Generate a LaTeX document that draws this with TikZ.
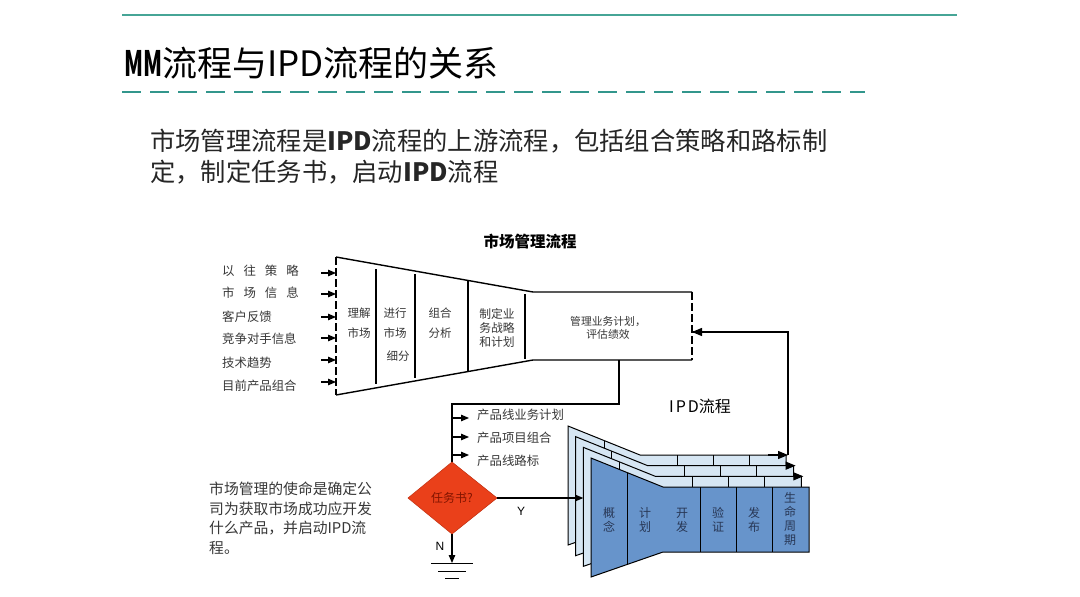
\documentclass[tikz,border=0pt]{standalone}
\usepackage{fontspec}
\setmainfont{Noto Sans CJK SC}
\newfontfamily\latinsans{Liberation Sans}
\usetikzlibrary{arrows.meta}
\definecolor{tealA}{RGB}{70,165,150}
\definecolor{tealB}{RGB}{50,150,140}
\definecolor{txtgray}{RGB}{55,55,55}
\definecolor{frontblue}{RGB}{103,148,203}
\definecolor{backblue}{RGB}{214,230,243}
\definecolor{diafill}{RGB}{234,64,26}
\definecolor{diatext}{RGB}{130,20,0}
\definecolor{ipdtext}{RGB}{40,55,85}
\tikzset{
  lbl/.style={inner sep=0pt, text=txtgray},
  ln/.style={line width=1.1pt, black},
  arr/.style={line width=1.1pt, black, -{Triangle[length=8pt,width=6.5pt]}},
  bigarr/.style={line width=1.3pt, black, -{Triangle[length=10pt,width=8pt]}},
  layerback/.style={fill=backblue, draw=black, line width=1pt},
  layerfront/.style={fill=frontblue, draw=black, line width=1pt},
}
\newcommand{\myfs}[2]{\fontsize{#1}{#2}\selectfont}
\begin{document}
\begin{tikzpicture}[x=1pt,y=-1pt]
\useasboundingbox (0,0) rectangle (1080,597);
\fill[white] (0,0) rectangle (1080,597);

% header
\coordinate (tl1) at (122,15); \coordinate (tl2) at (957,15);
\draw[tealA, line width=1.2pt] (tl1) -- (tl2);
\coordinate (dl1) at (122,92); \coordinate (dl2) at (865,92);
\draw[tealB, line width=2.5pt, dash pattern=on 19pt off 9pt] (dl1) -- (dl2);
\node[anchor=west, inner sep=0pt] (title) at (124,63) {\myfs{35}{35}\scalebox{0.62}[1]{\bfseries MM}流程与IPD流程的关系};

\node[anchor=west, inner sep=0pt, text=black!85] (p1) at (150,141) {\myfs{25.3}{25}市场管理流程是\textbf{IPD}流程的上游流程，包括组合策略和路标制};
\node[anchor=west, inner sep=0pt, text=black!85] (p2) at (150,172) {\myfs{25.3}{25}定，制定任务书，启动\textbf{IPD}流程};

% market management title
\node[inner sep=0pt] (mmt) at (530,242) {\myfs{15.5}{16}\bfseries 市场管理流程};

% funnel
\coordinate (fTL) at (336,257); \coordinate (fBL) at (336,395);
\coordinate (fTM) at (533,292); \coordinate (fBM) at (533,360);
\coordinate (fTR) at (692,292); \coordinate (fBR) at (692,360);
\draw[line width=1.4pt] (fTL) -- (fTM) -- (fTR);
\draw[line width=1.4pt] (fBL) -- (fBM) -- (fBR);
\draw[line width=1.4pt, dash pattern=on 8pt off 3pt] (fTL) -- (fBL);
\draw[line width=1.4pt, dash pattern=on 8pt off 3pt] (fTR) -- (fBR);
\foreach \x/\a/\b in {376/269/384, 415/274/378, 468/281/372, 525/294/359}
  \draw[line width=1.4pt] (\x,\a) -- (\x,\b);

% funnel texts
\node[lbl, align=center, font=\myfs{11.5}{20}] (t1) at (359,323) {理解\\市场};
\node[lbl, align=center, font=\myfs{11.5}{20}] (t2a) at (395,323) {进行\\市场};
\node[lbl, font=\myfs{11.5}{20}] (t2b) at (398,356) {细分};
\node[lbl, align=center, font=\myfs{11.5}{20}] (t3) at (440,323) {组合\\分析};
\node[lbl, align=center, font=\myfs{11.8}{14}] (t4) at (497,328) {制定业\\务战略\\和计划};
\node[lbl, align=center, font=\myfs{10.8}{13.5}] (t5) at (608,328) {管理业务计划，\\评估绩效};

% left inputs
\foreach \n/\txt/\ty/\ay in {
  i1/{以\hspace{9pt}往\hspace{9pt}策\hspace{9pt}略}/271/273,
  i2/{市\hspace{9pt}场\hspace{9pt}信\hspace{9pt}息}/293/294,
  i3/{客户反馈}/317/317,
  i4/{竞争对手信息}/339/338,
  i5/{技术趋势}/363/360,
  i6/{目前产品组合}/386/382}{
  \node[lbl, anchor=west, font=\myfs{12.4}{13}] (\n) at (222,\ty) {\txt};
  \coordinate (\n s) at (321,\ay);
  \coordinate (\n e) at (336,\ay);
  \draw[arr] (\n s) -- (\n e);
}

% IPD title
\node[inner sep=0pt] (ipdt) at (700,406) {\myfs{16}{16}I\hspace{2pt}P\hspace{2pt}D流程};

% IPD layers
\foreach \k in {0,1,2,3}{
  \pgfmathsetmacro{\xo}{568+7.67*\k}
  \pgfmathsetmacro{\yo}{426+10.67*\k}
  \ifnum\k<3
    \def\sty{layerback}
  \else
    \def\sty{layerfront}
  \fi
  \draw[\sty] (\xo,\yo) -- (\xo+72,\yo+29) -- (\xo+218,\yo+29) -- (\xo+218,\yo+94)
     -- (\xo+72,\yo+94) -- (\xo,\yo+119) -- cycle;
  \draw[line width=1pt] (\xo+36,\yo+14.5) -- (\xo+36,\yo+106.5);
  \foreach \d in {109,145,181}
    \draw[line width=1pt] (\xo+\d,\yo+29) -- (\xo+\d,\yo+94);
  \ifnum\k<3
    \coordinate (ar\k s) at (\xo+200,\yo+29);
    \coordinate (ar\k e) at (\xo+220,\yo+29);
  \fi
}
\foreach \k in {0,1,2}
  \draw[bigarr] (ar\k s) -- (ar\k e);
\coordinate (y2) at (583.3,498);

% IPD texts
\foreach \n/\x/\txt in {c1/609/{概\\念}, c2/645/{计\\划}, c3/682/{开\\发}, c4/718/{验\\证}, c5/754/{发\\布}}
  \node[inner sep=0pt, text=ipdtext, align=center, font=\myfs{12}{14}] (\n) at (\x,520) {\txt};
\node[inner sep=0pt, text=ipdtext, align=center, font=\myfs{12}{14}] (c6) at (790,518.5) {生\\命\\周\\期};

% feedback from IPD to box
\coordinate (fbTop) at (788,332);
\coordinate (fbIn) at (692,332);
\draw[ln, line width=1.3pt] (ar0e) ++(0,0) coordinate (fbBot) -- (fbBot |- fbTop) -- (fbIn);
\draw[bigarr] (fbTop) -- (fbIn);

% box to decision
\coordinate (bx) at (619,360);
\coordinate (bx2) at (619,404);
\coordinate (dT) at (452,462);
\coordinate (dL) at (408,498);
\coordinate (dR) at (497,498);
\coordinate (dB) at (452,534);
\coordinate (jn) at (452,404);
\draw[ln, line width=1.3pt] (bx) -- (bx2) -- (jn) -- (dT);

% product outputs
\foreach \n/\txt/\ay/\ty in {o1/产品线业务计划/418/415, o2/产品项目组合/437/438, o3/产品线路标/455/461}{
  \coordinate (\n s) at (452,\ay);
  \coordinate (\n e) at (469,\ay);
  \draw[arr] (\n s) -- (\n e);
  \node[lbl, anchor=west, font=\myfs{12.4}{13}] (\n) at (477,\ty) {\txt};
}

% diamond
\fill[diafill] (dT) -- (dR) -- (dB) -- (dL) -- cycle;
\draw[diafill!85!black, line width=0.6pt] (dT) -- (dR) -- (dB) -- (dL) -- cycle;
\node[inner sep=0pt, text=diatext, font=\myfs{12}{12}] (dtext) at (452,498) {任务书?};

% Y branch
\draw[arr] (dR) -- (y2);
\node[inner sep=0pt, font=\latinsans\myfs{12}{12}] (ylab) at (521,511) {Y};

% N branch
\coordinate (gnd) at (452,563);
\draw[arr] (dB) -- (gnd);
\node[inner sep=0pt, font=\latinsans\myfs{12}{12}] (nlab) at (440,546) {N};
\coordinate (g1a) at (431,563); \coordinate (g1b) at (473,563);
\coordinate (g2a) at (438,571); \coordinate (g2b) at (466,571);
\coordinate (g3a) at (445,578); \coordinate (g3b) at (459,578);
\draw[line width=1pt] (g1a) -- (g1b);
\draw[line width=1pt] (g2a) -- (g2b);
\draw[line width=1pt] (g3a) -- (g3b);

% mission text
\foreach \n/\txt/\yy in {m1/市场管理的使命是确定公/489, m2/司为获取市场成功应开发/508.5, m3/{什么产品，并启动IPD流}/528, m4/程。/547.5}
  \node[lbl, anchor=west, font=\myfs{14.8}{15}] (\n) at (209,\yy) {\txt};

\end{tikzpicture}
\end{document}
